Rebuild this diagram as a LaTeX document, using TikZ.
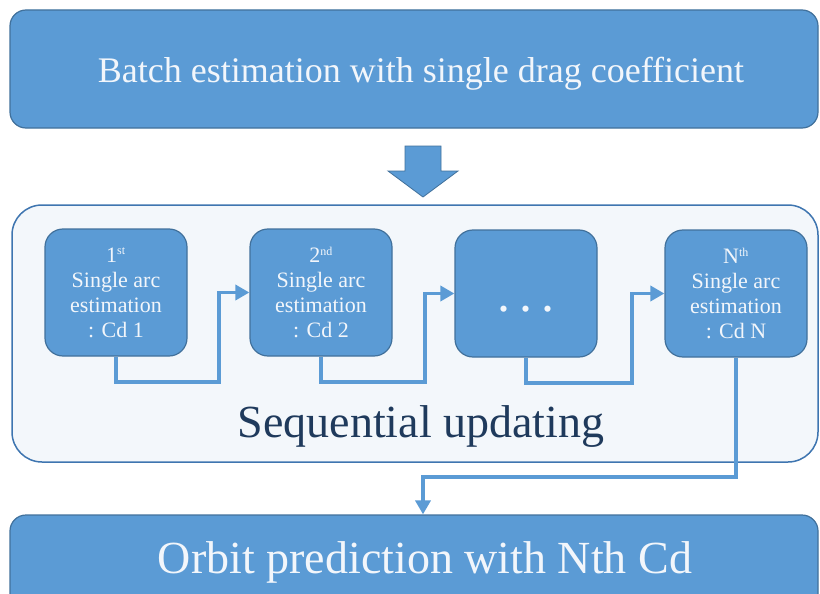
\documentclass[tikz,border=0pt]{standalone}
\usepackage{fontspec}
\setmainfont{Liberation Serif}
\newfontfamily\timesfont{Liberation Serif}
\usetikzlibrary{arrows.meta,calc}
\definecolor{boxblue}{HTML}{5B9BD5}
\definecolor{edgeblue}{HTML}{41719C}
\definecolor{panel}{HTML}{F3F7FB}
\definecolor{paneledge}{HTML}{3E75B0}
\definecolor{navy}{HTML}{1F3A5C}
\definecolor{paper}{HTML}{F2F6FB}
\newcommand{\ordsup}[1]{\textsuperscript{\fontsize{12}{12}\selectfont #1}}
\begin{document}
\begin{tikzpicture}[x=1pt,y=-1pt,
  banner/.style={draw=edgeblue,line width=1.2pt,fill=boxblue,rounded corners=16pt,
    minimum width=808pt,inner sep=0pt},
  bannertext/.style={anchor=base,text=paper,inner sep=0pt},
  stage/.style={draw=edgeblue,line width=1.2pt,fill=boxblue,rounded corners=18pt,
    minimum width=142pt,minimum height=127pt,inner sep=0pt,text=paper,align=center,
    font=\timesfont\fontsize{22}{25}\selectfont},
  conn/.style={draw=boxblue,line width=3.6pt,-{Triangle[length=14pt,width=15pt]}}]
\clip (0,0) rectangle (820,594);
\fill[white] (0,0) rectangle (820,594);

% top banner
\node[banner,minimum height=118pt] (batch) at (414,69) {};
\node[bannertext,font=\timesfont\fontsize{36}{36}\selectfont] (batchlabel) at (421,83)
  {Batch estimation with single drag coefficient};

% block arrow down to the sequential panel
\filldraw[fill=boxblue,draw=edgeblue,line width=0.8pt]
  (405,146) -- (441,146) -- (441,171) -- (458,171) -- (423,197) -- (388,171) -- (405,171) -- cycle;

% sequential panel
\node[draw=paneledge,line width=1.5pt,fill=panel,rounded corners=30pt,
  minimum width=806pt,minimum height=257pt,inner sep=0pt] (seq) at (415,333.5) {};
\node[anchor=base,text=navy,inner sep=0pt,font=\timesfont\fontsize{46}{46}\selectfont]
  (seqlabel) at (421,437) {Sequential updating};

% stages
\node[stage] (b1) at (116,292.5) {1\ordsup{st}\\Single arc\\estimation\\: Cd 1};
\node[stage] (b2) at (321,292.5) {2\ordsup{nd}\\Single arc\\estimation\\: Cd 2};
\node[stage] (b3) at (526,293.5) {};
\node[text=paper,inner sep=0pt,font=\timesfont\fontsize{52}{52}\selectfont] (dots) at (526,309) {.\,.\,.};
\node[stage] (b4) at (736,293.5) {N\ordsup{th}\\Single arc\\estimation\\: Cd N};

% bottom banner
\node[banner,minimum height=110pt] (orbit) at (414,570) {};
\node[bannertext,font=\timesfont\fontsize{46}{46}\selectfont] (orbitlabel) at (425,573)
  {Orbit prediction with Nth Cd};

% connectors
\coordinate (k1) at (219,382);
\coordinate (k2) at (425,382);
\coordinate (k3) at (632,383);
\coordinate (k4) at (423,477);
\draw[conn] (b1.south) |- (k1) |- (b2.west);
\draw[conn] (b2.south) |- (k2) |- (b3.west);
\draw[conn] (b3.south) |- (k3) |- (b4.west);
\draw[conn] (b4.south) |- (k4) -- ($(orbit.north)+(9,0)$);
\end{tikzpicture}
\end{document}
